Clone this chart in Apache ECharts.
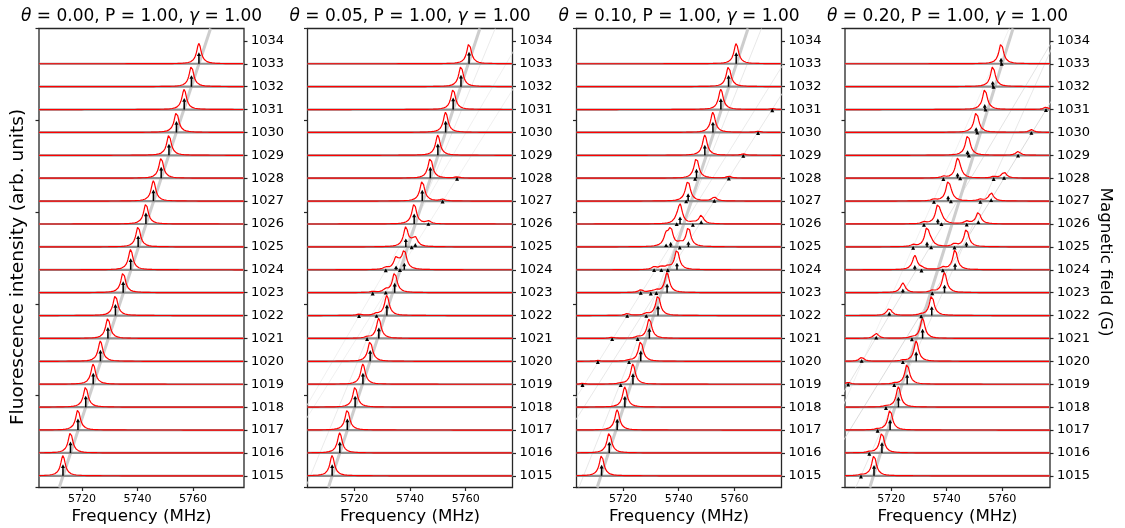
<!DOCTYPE html>
<html><head><meta charset="utf-8">
<script src="https://cdn.jsdelivr.net/npm/echarts@6/dist/echarts.min.js"></script>
<style>html,body{margin:0;padding:0;background:#fff}#c{width:1125px;height:528px}</style>
</head><body><div id="c"></div>
<script>
// ---------- data ----------
const fields = [1015,1016,1017,1018,1019,1020,1021,1022,1023,1024,1025,1026,1027,1028,1029,1030,1031,1032,1033];
const fieldTicks = [1015,1016,1017,1018,1019,1020,1021,1022,1023,1024,1025,1026,1027,1028,1029,1030,1031,1032,1033,1034];
const freqTicks = [5720,5740,5760];
const thetaLabels = ['0.00','0.05','0.10','0.20'];
const pLabel = '1.00';
const gammaLabel = '1.00';
const gammaMHz = 1.0;
const freqRanges = [[5704.46,5778.35],[5703.2,5776.8],[5703.35,5776.9],[5703.35,5777.2]];
const fieldRange = [1014.49,1034.54];
const intensityTicks = [0,1];

// sticks: [field, frequency, strength]
const sticksP1 = [
 [1015,5713.1,0.48],[1016,5715.8,0.48],[1017,5718.5,0.48],[1018,5721.3,0.48],[1019,5724.0,0.48],
 [1020,5726.6,0.48],[1021,5729.3,0.48],[1022,5732.0,0.48],[1023,5734.8,0.48],[1024,5737.5,0.48],
 [1025,5740.2,0.48],[1026,5743.0,0.48],[1027,5745.7,0.48],[1028,5748.5,0.48],[1029,5751.3,0.48],
 [1030,5754.0,0.48],[1031,5756.8,0.48],[1032,5759.4,0.48],[1033,5762.1,0.48]
];
const sticksP2 = [
 [1015,5712.05,0.48],[1016,5714.8,0.48],[1017,5717.5,0.48],[1018,5720.3,0.48],[1019,5723.1,0.48],
 [1020,5725.7,0.47],
 [1021,5724.6,0.03],[1021,5728.8,0.46],
 [1022,5721.7,0.03],[1022,5728.0,0.04],[1022,5731.7,0.46],
 [1023,5726.6,0.02],[1023,5731.3,0.06],[1023,5734.5,0.41],
 [1024,5731.3,0.03],[1024,5735.0,0.17],[1024,5736.4,0.04],[1024,5737.95,0.29],
 [1025,5738.5,0.35],[1025,5740.6,0.04],[1025,5741.9,0.15],
 [1026,5741.5,0.44],[1026,5746.6,0.06],
 [1027,5744.4,0.47],[1027,5751.7,0.04],
 [1028,5747.3,0.48],[1028,5756.9,0.03],
 [1029,5750.0,0.49],[1030,5752.8,0.49],[1031,5755.5,0.50],[1032,5758.3,0.50],[1033,5761.2,0.50]
];
const sticksP3 = [
 [1015,5712.35,0.46],[1016,5715.1,0.47],[1017,5717.95,0.47],[1018,5720.7,0.47],
 [1019,5705.5,0.02],[1019,5719.2,0.02],[1019,5723.6,0.46],
 [1020,5711.0,0.02],[1020,5722.2,0.02],[1020,5726.4,0.45],
 [1021,5716.15,0.025],[1021,5725.3,0.03],[1021,5729.5,0.43],
 [1022,5721.55,0.04],[1022,5728.4,0.04],[1022,5732.6,0.42],
 [1023,5726.4,0.05],[1023,5730.0,0.02],[1023,5732.0,0.04],[1023,5735.85,0.38],
 [1024,5731.2,0.04],[1024,5733.8,0.04],[1024,5736.1,0.04],[1024,5739.4,0.29],
 [1025,5735.5,0.13],[1025,5737.15,0.2],[1025,5740.4,0.03],[1025,5743.5,0.23],
 [1026,5739.3,0.05],[1026,5740.5,0.31],[1026,5745.1,0.02],[1026,5748.1,0.14],
 [1027,5742.7,0.05],[1027,5743.4,0.32],[1027,5752.8,0.07],
 [1028,5745.9,0.03],[1028,5746.4,0.39],[1028,5758.0,0.04],
 [1029,5749.4,0.44],[1029,5763.2,0.03],
 [1030,5752.3,0.45],[1030,5768.5,0.025],
 [1031,5755.15,0.47],[1031,5773.6,0.02],
 [1032,5757.9,0.49],[1033,5760.65,0.48]
];
const sticksP4 = [
 [1015,5709.1,0.02],[1015,5713.8,0.45],
 [1016,5712.1,0.02],[1016,5716.65,0.45],
 [1017,5715.1,0.02],[1017,5719.6,0.44],
 [1018,5718.1,0.02],[1018,5722.6,0.43],
 [1019,5704.5,0.04],[1019,5721.1,0.02],[1019,5725.75,0.42],
 [1020,5709.35,0.08],[1020,5724.2,0.02],[1020,5729.0,0.41],
 [1021,5714.6,0.1],[1021,5727.45,0.02],[1021,5731.3,0.4],
 [1022,5719.3,0.14],[1022,5730.8,0.02],[1022,5734.6,0.39],
 [1023,5724.2,0.16],[1023,5734.8,0.03],[1023,5739.2,0.33],
 [1024,5728.5,0.19],[1024,5730.9,0.02],[1024,5738.6,0.03],[1024,5743.0,0.27],
 [1025,5727.9,0.02],[1025,5732.9,0.21],[1025,5734.4,0.04],[1025,5742.8,0.03],[1025,5747.1,0.2],
 [1026,5731.8,0.02],[1026,5736.8,0.22],[1026,5738.1,0.05],[1026,5747.2,0.03],[1026,5751.4,0.14],
 [1027,5735.4,0.02],[1027,5740.5,0.22],[1027,5741.5,0.05],[1027,5752.1,0.02],[1027,5756.0,0.1],
 [1028,5738.8,0.02],[1028,5743.9,0.22],[1028,5744.85,0.05],[1028,5756.9,0.02],[1028,5760.65,0.075],
 [1029,5747.5,0.2],[1029,5748.0,0.05],[1029,5765.7,0.045],
 [1030,5750.6,0.21],[1030,5751.0,0.05],[1030,5770.5,0.035],
 [1031,5753.7,0.22],[1031,5754.0,0.05],[1031,5775.75,0.03],
 [1032,5756.57,0.23],[1032,5756.85,0.05],
 [1033,5759.57,0.24],[1033,5759.8,0.05]
];

// resonance lines vs field: [[frequency, field], [frequency, field]]
const mainLineP1 = [[5711.75,1014.49],[5766.3,1034.54]];
const mainLineP2 = [[5710.7,1014.49],[5765.1,1034.54]];
const mainLineP3 = [[5710.75,1014.49],[5764.9,1034.54]];
const mainLineP4 = [[5712.3,1014.49],[5763.9,1034.54]];
const weakLinesP1 = [];
const weakLinesP2 = [
 [[5687.3,1014.49],[5790.6,1034.54]],
 [[5685.8,1014.49],[5781.9,1034.54]],
 [[5702.5,1014.49],[5770.6,1034.54]]
];
const weakLinesP3 = [
 [[5687.75,1014.49],[5791.9,1034.54]],
 [[5683.2,1014.49],[5785.5,1034.54]],
 [[5704.2,1014.49],[5769.7,1034.54]]
];
const weakLinesP4 = [
 [[5692.4,1014.49],[5793.7,1034.54]],
 [[5682.5,1014.49],[5780.7,1034.54]],
 [[5707.2,1014.49],[5781.0,1034.54]],
 [[5689.7,1014.49],[5762.5,1034.54]]
];
const weakLineShade = [[], ['#ececec','#ececec','#e6e6e6'], ['#e2e2e2','#e6e6e6','#e2e2e2'], ['#d2d2d2','#dcdcdc','#e2e2e2','#eeeeee']];

const panelSticks = [sticksP1, sticksP2, sticksP3, sticksP4];
const panelMain = [mainLineP1, mainLineP2, mainLineP3, mainLineP4];
const panelWeak = [weakLinesP1, weakLinesP2, weakLinesP3, weakLinesP4];

// ---------- layout / style ----------
const FONT = 'DejaVu Sans';
const gridLefts = [39, 307.5, 576.5, 845];
const gridTop = 28.5, gridW = 205, gridH = 459;
const peakHeight = 0.89;
const AX = '#262626';
const plain = v => String(v);

const grids = [], xAxes = [], yAxes = [], series = [], graphics = [];

panelSticks.forEach((sticks, p) => {
  const [xmin, xmax] = freqRanges[p];
  grids.push({left: gridLefts[p], top: gridTop, width: gridW, height: gridH,
    show: true, borderColor: AX, borderWidth: 1.3, backgroundColor: '#fff', containLabel: false});
  xAxes.push({gridIndex: p, type: 'value', min: xmin, max: xmax,
    axisLine: {show: false}, splitLine: {show: false},
    axisTick: {show: true, customValues: freqTicks, length: 3.5, lineStyle: {color: AX, width: 1.2}},
    axisLabel: {show: true, customValues: freqTicks, formatter: plain, fontSize: 11, color: '#000', fontFamily: FONT, margin: 6}});
  yAxes.push({gridIndex: p, type: 'value', position: 'left', min: intensityTicks[0], max: intensityTicks[1], interval: 0.2,
    axisLine: {show: false}, splitLine: {show: false}, axisLabel: {show: false},
    axisTick: {show: true, length: 3.5, lineStyle: {color: AX, width: 1.2}}});
  yAxes.push({gridIndex: p, type: 'value', position: 'right', min: fieldRange[0], max: fieldRange[1],
    axisLine: {show: false}, splitLine: {show: false},
    axisTick: {show: true, customValues: fieldTicks, length: 3.5, lineStyle: {color: AX, width: 1.2}},
    axisLabel: {show: true, customValues: fieldTicks, formatter: plain, fontSize: 13, color: '#000', fontFamily: FONT, margin: 7}});
  const yi = 2 * p + 1;

  // resonance lines
  panelWeak[p].forEach((seg, k) => series.push({type: 'line', xAxisIndex: p, yAxisIndex: yi, data: seg,
    showSymbol: false, silent: true, z: 1, lineStyle: {color: weakLineShade[p][k], width: 0.8}}));
  series.push({type: 'line', xAxisIndex: p, yAxisIndex: yi, data: panelMain[p],
    showSymbol: false, silent: true, z: 1, lineStyle: {color: '#cdcdcd', width: 3}});

  fields.forEach(B => {
    const rows = sticks.filter(s => s[0] === B);
    // baseline
    series.push({type: 'line', xAxisIndex: p, yAxisIndex: yi, data: [[xmin, B], [xmax, B]],
      showSymbol: false, silent: true, z: 2, lineStyle: {color: '#8f8f8f', width: 2.2}});
    // Lorentzian spectrum built from the sticks
    const pts = [];
    let mx = 0;
    for (let x = xmin; x <= xmax + 1e-9; x += 0.08) {
      let s = 0;
      rows.forEach(r => { const d = x - r[1]; s += r[2] * gammaMHz * gammaMHz / (d * d + gammaMHz * gammaMHz); });
      pts.push([x, s]);
      if (s > mx) mx = s;
    }
    series.push({type: 'line', xAxisIndex: p, yAxisIndex: yi,
      data: pts.map(q => [q[0], B + peakHeight * q[1] / mx]),
      showSymbol: false, silent: true, z: 3, lineStyle: {color: '#ff0000', width: 1.2}});
  });

  // stick arrows
  series.push({type: 'custom', xAxisIndex: p, yAxisIndex: yi, z: 4, silent: true, clip: true,
    data: sticks.map(s => [s[1], s[0], s[2]]),
    encode: {x: 0, y: 1},
    renderItem: (params, api) => {
      const f = api.value(0), B = api.value(1), h = api.value(2);
      const p0 = api.coord([f, B]);
      const p1 = api.coord([f, B + h]);
      const hw = 2.0, hl = 3.2;
      return {type: 'group', children: [
        {type: 'line', shape: {x1: p0[0], y1: p0[1], x2: p1[0], y2: p1[1] + hl - 0.5},
          style: {stroke: '#000', lineWidth: 1.5}},
        {type: 'polygon', shape: {points: [[p1[0], p1[1] - 0.5], [p1[0] - hw, p1[1] + hl], [p1[0] + hw, p1[1] + hl]]},
          style: {fill: '#000'}}
      ]};
    }});

  const cx = gridLefts[p] + gridW / 2;
  graphics.push({type: 'text', x: cx, y: 17, z: 10, style: {
    text: '{i|θ} = ' + thetaLabels[p] + ', P = ' + pLabel + ', {i|γ} = ' + gammaLabel,
    fontSize: 17, fontFamily: FONT, fill: '#000', align: 'center', verticalAlign: 'middle',
    rich: {i: {fontStyle: 'italic', fontSize: 17, fontFamily: FONT, fill: '#000'}}}});
  graphics.push({type: 'text', x: cx, y: 517, z: 10, style: {
    text: 'Frequency (MHz)', fontSize: 16.7, fontFamily: FONT, fill: '#000', align: 'center', verticalAlign: 'middle'}});
});

graphics.push({type: 'text', x: 18, y: 267, rotation: Math.PI / 2, z: 10, style: {
  text: 'Fluorescence intensity (arb. units)', fontSize: 18.5, fontFamily: FONT, fill: '#000', align: 'center', verticalAlign: 'middle'}});
graphics.push({type: 'text', x: 1105, y: 262, rotation: -Math.PI / 2, z: 10, style: {
  text: 'Magnetic field (G)', fontSize: 16.7, fontFamily: FONT, fill: '#000', align: 'center', verticalAlign: 'middle'}});

const chart = echarts.init(document.getElementById('c'));
chart.setOption({
  animation: false, backgroundColor: '#fff',
  grid: grids, xAxis: xAxes, yAxis: yAxes, series: series, graphic: graphics
});
</script></body></html>
